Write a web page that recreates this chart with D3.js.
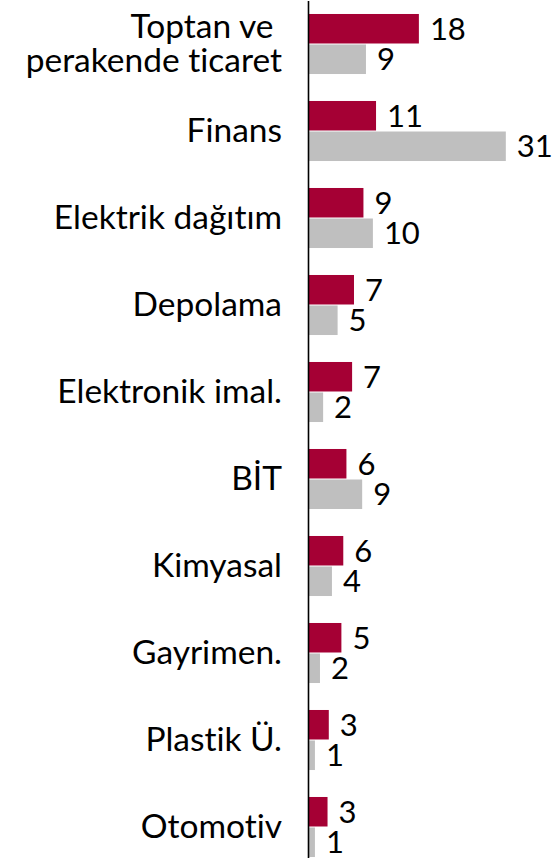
<!DOCTYPE html>
<html>
<head>
<meta charset="utf-8">
<script src="https://cdn.jsdelivr.net/npm/d3@7"></script>
<style>
  body { margin: 0; background: #fff; }
  svg { display: block; }
  text { font-family: Lato, "Open Sans", sans-serif; fill: #000; font-variant-ligatures: none; }
</style>
</head>
<body>
<div class="svg"></div>
<script>
// categories (top to bottom), "\n" marks a line break
var categories = ["Toptan ve \nperakende ticaret", "Finans", "Elektrik dağıtım", "Depolama",
  "Elektronik imal.", "BİT", "Kimyasal", "Gayrimen.", "Plastik Ü.", "Otomotiv"];
// bar lengths, labels show them rounded
var seriesRed = [17.6, 10.8, 8.8, 7.3, 7.0, 6.1, 5.6, 5.3, 3.3, 3.1];
var seriesGrey = [9.2, 31.4, 10.3, 4.7, 2.4, 8.6, 3.8, 1.9, 1.1, 1.1];
var seriesKeys = ["red", "grey"];
var colors = { red: "#a50034", grey: "#bfbfbf" };

var w = 559;
var h = 858;
var margin = { top: 0.5, left: 308 };

var data = categories.map(function(c, i) {
  return { name: c, red: seriesRed[i], grey: seriesGrey[i] };
});

var svg = d3.select(".svg").append("svg").attr("width", w).attr("height", h);
var chart = svg.append("g").attr("transform", "translate(" + margin.left + "," + margin.top + ")");

var yScale = d3.scaleBand().domain(categories).range([0, 870])
  .paddingInner(0.31).paddingOuter(0.155);
var yInner = d3.scaleBand().domain(seriesKeys).range([0, yScale.bandwidth()]).paddingInner(0.033);
var xScale = d3.scaleLinear().domain([0, 40]).range([0, 252]);
var fmt = d3.format(".0f");

var groups = chart.selectAll(".grp")
  .data(data)
  .enter()
  .append("g")
  .attr("class", "grp")
  .attr("transform", function(d) { return "translate(0," + yScale(d.name) + ")"; });

var cells = groups.selectAll(".cell")
  .data(function(d) { return seriesKeys.map(function(k) { return { key: k, value: d[k] }; }); })
  .enter();

cells.append("rect")
  .attr("class", "bar")
  .attr("x", 0)
  .attr("y", function(d) { return yInner(d.key); })
  .attr("height", yInner.bandwidth())
  .attr("width", function(d) { return xScale(d.value); })
  .attr("fill", function(d) { return colors[d.key]; });

cells.append("text")
  .attr("class", "val")
  .attr("x", function(d) { return xScale(d.value) + 11; })
  .attr("y", function(d) { return yInner(d.key) + yInner.bandwidth() / 2; })
  .attr("dy", "0.36em")
  .style("font-size", "31px")
  .text(function(d) { return fmt(d.value); });

// category axis: line only, labels done by hand for the line break
var yAxis = d3.axisLeft(yScale).tickSize(0).tickFormat("");
var ax = chart.append("g").attr("class", "y axis").call(yAxis);
ax.select(".domain").attr("stroke", "#000").attr("stroke-width", 1.6);

var labels = chart.selectAll(".cat")
  .data(categories)
  .enter()
  .append("text")
  .attr("class", "cat")
  .attr("text-anchor", "end")
  .style("font-size", "33.5px")
  .style("white-space", "pre")
  .attr("transform", function(d) { return "translate(-26," + (yScale(d) + yScale.bandwidth() / 2 - 1) + ")"; });

labels.each(function(d) {
  var lines = d.split("\n");
  var lh = 33.7;
  var t = d3.select(this);
  lines.forEach(function(line, i) {
    t.append("tspan")
      .attr("x", 0)
      .attr("y", (i - (lines.length - 1) / 2) * lh)
      .attr("dy", "0.36em")
      .text(line);
  });
});
</script>
</body>
</html>
